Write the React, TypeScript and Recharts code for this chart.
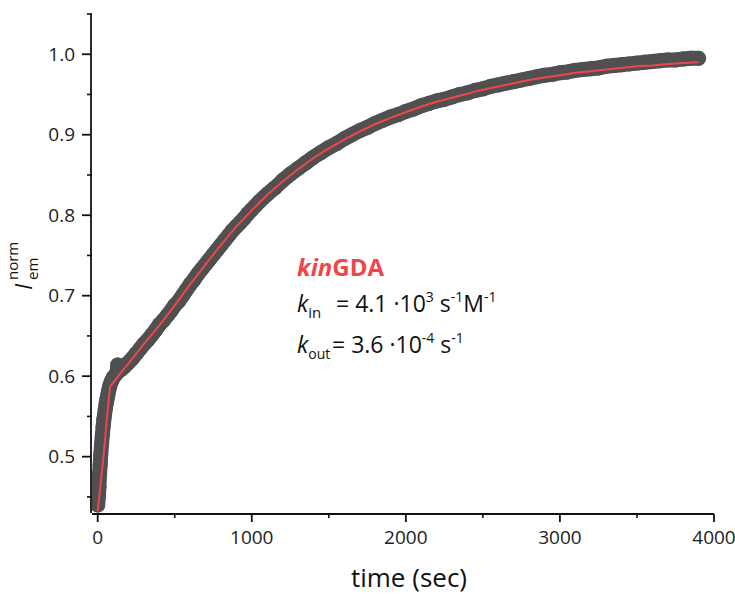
import React from "react";
import { ComposedChart, Scatter, XAxis, YAxis } from "recharts";

// measured normalised emission, [time (s), I_em^norm]
const measured: [number, number][] = [
  [0, 0.44], [4, 0.45], [8, 0.462], [12, 0.478], [16, 0.49], [20, 0.503],
  [25, 0.515], [30, 0.527], [35, 0.537], [40, 0.546], [45, 0.553], [50, 0.56],
  [55, 0.566], [60, 0.571], [65, 0.576], [70, 0.581], [75, 0.585], [80, 0.589],
  [90, 0.594], [100, 0.598], [125, 0.604], [130, 0.614], [150, 0.608],
  [175, 0.612], [200, 0.617], [225, 0.622], [250, 0.628], [275, 0.634],
  [300, 0.64], [325, 0.645], [350, 0.651], [375, 0.657], [400, 0.664],
  [425, 0.669], [450, 0.675], [475, 0.681], [500, 0.688], [525, 0.693],
  [550, 0.7], [575, 0.707], [600, 0.714], [625, 0.72], [650, 0.727],
  [675, 0.733], [700, 0.739], [725, 0.745], [750, 0.751], [775, 0.757],
  [800, 0.763], [825, 0.769], [850, 0.775], [875, 0.781], [900, 0.786],
  [925, 0.791], [950, 0.796], [975, 0.802], [1000, 0.807], [1050, 0.817],
  [1100, 0.826], [1150, 0.834], [1200, 0.843], [1250, 0.851], [1300, 0.858],
  [1350, 0.865], [1400, 0.872], [1450, 0.878], [1500, 0.884], [1550, 0.889],
  [1600, 0.895], [1650, 0.9], [1700, 0.905], [1750, 0.909], [1800, 0.914],
  [1850, 0.918], [1900, 0.922], [1950, 0.925], [2000, 0.929], [2050, 0.932],
  [2100, 0.936], [2150, 0.939], [2200, 0.942], [2250, 0.944], [2300, 0.947],
  [2350, 0.95], [2400, 0.952], [2450, 0.955], [2500, 0.957], [2550, 0.96],
  [2600, 0.962], [2650, 0.964], [2700, 0.966], [2750, 0.968], [2800, 0.97],
  [2850, 0.972], [2900, 0.974], [2950, 0.975], [3000, 0.977], [3050, 0.978],
  [3100, 0.98], [3150, 0.981], [3200, 0.982], [3250, 0.983], [3300, 0.985],
  [3350, 0.986], [3400, 0.987], [3450, 0.988], [3500, 0.989], [3550, 0.99],
  [3600, 0.991], [3650, 0.992], [3700, 0.993], [3750, 0.993], [3800, 0.994],
  [3850, 0.995], [3900, 0.995],
];

// fitted kinGDA curve
const fitTime = [
  0, 20, 40, 60, 80, 150, 200, 300, 400, 500, 600, 700, 800, 900, 1000, 1100,
  1200, 1300, 1400, 1500, 1600, 1700, 1800, 1900, 2000, 2100, 2200, 2300, 2400,
  2500, 2600, 2700, 2800, 2900, 3000, 3100, 3200, 3300, 3400, 3500, 3600, 3700,
  3800, 3900,
];
const fitValue = [
  0.432, 0.468, 0.505, 0.548, 0.587, 0.604, 0.616, 0.64, 0.663, 0.688, 0.714,
  0.739, 0.763, 0.786, 0.806, 0.825, 0.842, 0.857, 0.871, 0.883, 0.894, 0.904,
  0.913, 0.921, 0.928, 0.935, 0.941, 0.946, 0.951, 0.956, 0.96, 0.964, 0.968,
  0.971, 0.974, 0.977, 0.979, 0.981, 0.983, 0.985, 0.986, 0.988, 0.989, 0.99,
];

const xMajor = [0, 1000, 2000, 3000, 4000];
const xMinor = [500, 1500, 2500, 3500];
const yMajor = [0.5, 0.6, 0.7, 0.8, 0.9, 1.0];
const yMinor = [0.45, 0.55, 0.65, 0.75, 0.85, 0.95, 1.05];

const points = measured.map(([t, y]) => ({ t, y }));
const fit = fitTime.map((t, i) => ({ t, y: fitValue[i] }));

const FONT = "'Open Sans', sans-serif";
const AXIS = "#111";
const RED = "#f0464b";
const GREY = "#505050";

const Dot = (p: any) => <circle cx={p.cx} cy={p.cy} r={7.5} fill={GREY} />;
const NoDot = () => <g />;
const NoTick = () => <g />;

export default function App() {
  return (
    <div style={{ position: "absolute", left: 0, top: 0, width: 735, height: 594, background: "#fff" }}>
      <ComposedChart
        width={735}
        height={594}
        margin={{ top: 14, right: 21, bottom: 0, left: -1 }}
        style={{ fontFamily: FONT }}
      >
        <XAxis
          xAxisId="bMain"
          type="number"
          dataKey="t"
          domain={[-37, 4000]}
          allowDataOverflow
          ticks={xMajor}
          tickSize={8}
          tickMargin={9}
          stroke={AXIS}
          strokeWidth={1.8}
          tick={{ fontSize: 19, fill: "#222", fontFamily: FONT }}
          height={80}
        />
        <XAxis
          xAxisId="aMinor"
          type="number"
          dataKey="t"
          domain={[-37, 4000]}
          allowDataOverflow
          ticks={xMinor}
          tick={NoTick}
          tickSize={5}
          axisLine={false}
          stroke={AXIS}
          strokeWidth={1.6}
          height={1}
        />
        <YAxis
          yAxisId="bMain"
          type="number"
          domain={[0.43, 1.05]}
          allowDataOverflow
          ticks={yMajor}
          tickSize={9}
          tickMargin={7}
          tickFormatter={(v: number) => v.toFixed(1)}
          stroke={AXIS}
          strokeWidth={1.8}
          tick={{ fontSize: 19, fill: "#222", fontFamily: FONT }}
          width={92}
        />
        <YAxis
          yAxisId="aMinor"
          type="number"
          domain={[0.43, 1.05]}
          allowDataOverflow
          ticks={yMinor}
          tick={NoTick}
          tickSize={5}
          axisLine={false}
          stroke={AXIS}
          strokeWidth={1.6}
          width={1}
        />
        <Scatter
          xAxisId="bMain"
          yAxisId="bMain"
          data={points}
          dataKey="y"
          shape={Dot}
          line={{ stroke: GREY, strokeWidth: 15, strokeLinecap: "round", strokeLinejoin: "round" }}
          isAnimationActive={false}
        />
        <Scatter
          xAxisId="bMain"
          yAxisId="bMain"
          data={fit}
          dataKey="y"
          shape={NoDot}
          line={{ stroke: RED, strokeWidth: 2 }}
          isAnimationActive={false}
        />
      </ComposedChart>
      <svg
        width={735}
        height={594}
        style={{ position: "absolute", left: 0, top: 0, pointerEvents: "none", fontFamily: FONT }}
      >
        <text x={409} y={587} fontSize={26} textAnchor="middle" fill="#111">
          time (sec)
        </text>
        <g transform="translate(32,290) rotate(-90)" fill="#111">
          <text x={0} y={0} fontSize={23} fontStyle="italic">I</text>
          <text x={10} y={6} fontSize={15}>em</text>
          <text x={10} y={-14} fontSize={15}>norm</text>
        </g>
        <text x={297} y={276} fontSize={24} fontWeight="bold" fill={RED}>
          <tspan fontStyle="italic">kin</tspan>GDA
        </text>
        <text x={297} y={312} fontSize={23} fill="#111">
          <tspan fontStyle="italic">k</tspan>
          <tspan fontSize={15} dy={6}>in</tspan>
        </text>
        <text x={336} y={312} fontSize={23} fill="#111">
          = 4.1 ·10<tspan fontSize={14} dy={-10}>3</tspan>
          <tspan dy={10}> s</tspan>
          <tspan fontSize={14} dy={-10}>-1</tspan>
          <tspan dy={10}>M</tspan>
          <tspan fontSize={14} dy={-10}>-1</tspan>
        </text>
        <text x={297} y={353} fontSize={23} fill="#111">
          <tspan fontStyle="italic">k</tspan>
          <tspan fontSize={14} dy={6}>out</tspan>
        </text>
        <text x={332} y={353} fontSize={23} fill="#111">
          = 3.6 ·10<tspan fontSize={14} dy={-10}>-4</tspan>
          <tspan dy={10}> s</tspan>
          <tspan fontSize={14} dy={-10}>-1</tspan>
        </text>
      </svg>
    </div>
  );
}
